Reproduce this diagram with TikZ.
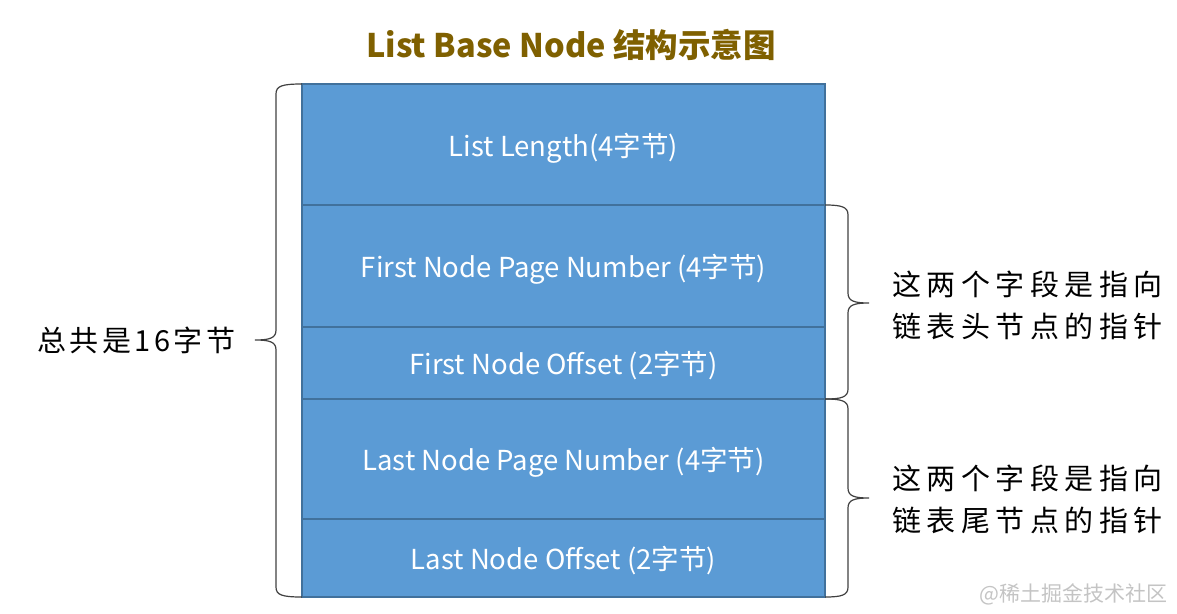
\documentclass[tikz,border=0pt]{standalone}
\usepackage{fontspec}
\setmainfont{Noto Sans CJK SC}
\newfontfamily\notefont[LetterSpace=12]{Noto Sans CJK SC}
\newfontfamily\notewidefont[LetterSpace=19]{Noto Sans CJK SC}
\usetikzlibrary{positioning}

\definecolor{mFieldBlue}{HTML}{5B9BD5}
\definecolor{mFieldEdge}{HTML}{41719C}
\definecolor{mTitleGold}{HTML}{7F6000}
\definecolor{mMarkGray}{HTML}{C4C4C4}

\begin{document}
\begin{tikzpicture}[x=1pt, y=-1pt,
  field/.style={draw=mFieldEdge, line width=1.2pt, fill=mFieldBlue, text=white,
    minimum width=523pt, inner sep=0pt, outer sep=0pt, text depth=0pt,
    font=\fontsize{27.5}{32}\selectfont},
  note/.style={font=\notefont\fontsize{29}{42}\selectfont, align=left, inner sep=0pt},
  brace/.style={line width=1.2pt, black!75}]

\useasboundingbox (0,0) rectangle (1177,613);

\node[font=\bfseries\fontsize{32.5}{38}\selectfont, text=mTitleGold] (title) at (571,45) {List Base Node 结构示意图};

\node[field, minimum height=121pt, anchor=north west] (len) at (302,84) {List Length(4字节)};
\node[field, minimum height=122pt, below=0pt of len] (fpage) {First Node Page Number (4字节)};
\node[field, minimum height=72pt, below=0pt of fpage] (foff) {First Node Offset (2字节)};
\node[field, minimum height=120pt, below=0pt of foff] (lpage) {Last Node Page Number (4字节)};
\node[field, minimum height=78pt, below=0pt of lpage] (loff) {Last Node Offset (2字节)};

% braces
\draw[brace] (len.north west) .. controls (282,84) and (276,86) .. (276,94) -- (276,330)
  .. controls (276,338) and (270,340) .. (255,340)
  .. controls (270,340) and (276,342) .. (276,350) -- (276,587)
  .. controls (276,595) and (282,597) .. (loff.south west);

\draw[brace] (fpage.north east) .. controls (842,205) and (848,207) .. (848,215) -- (848,293)
  .. controls (848,301) and (854,303) .. (869,303)
  .. controls (854,303) and (848,305) .. (848,313) -- (848,389)
  .. controls (848,397) and (842,399) .. (foff.south east);

\draw[brace] (lpage.north east) .. controls (842,399) and (848,401) .. (848,409) -- (848,488)
  .. controls (848,496) and (854,498) .. (869,498)
  .. controls (854,498) and (848,500) .. (848,508) -- (848,587)
  .. controls (848,595) and (842,597) .. (loff.south east);

\node[note, anchor=west] (total) at (37,340) {总共是16字节};
\node[note, font=\notewidefont\fontsize{29}{42}\selectfont, anchor=west] (headnote) at (892,305) {这两个字段是指向\\链表头节点的指针};
\node[note, font=\notewidefont\fontsize{29}{42}\selectfont, anchor=west] (tailnote) at (892,499) {这两个字段是指向\\链表尾节点的指针};

\node[font=\fontsize{21}{24}\selectfont, text=mMarkGray, anchor=east, inner sep=0pt] (mark) at (1168,594) {@稀土掘金技术社区};

\end{tikzpicture}
\end{document}
